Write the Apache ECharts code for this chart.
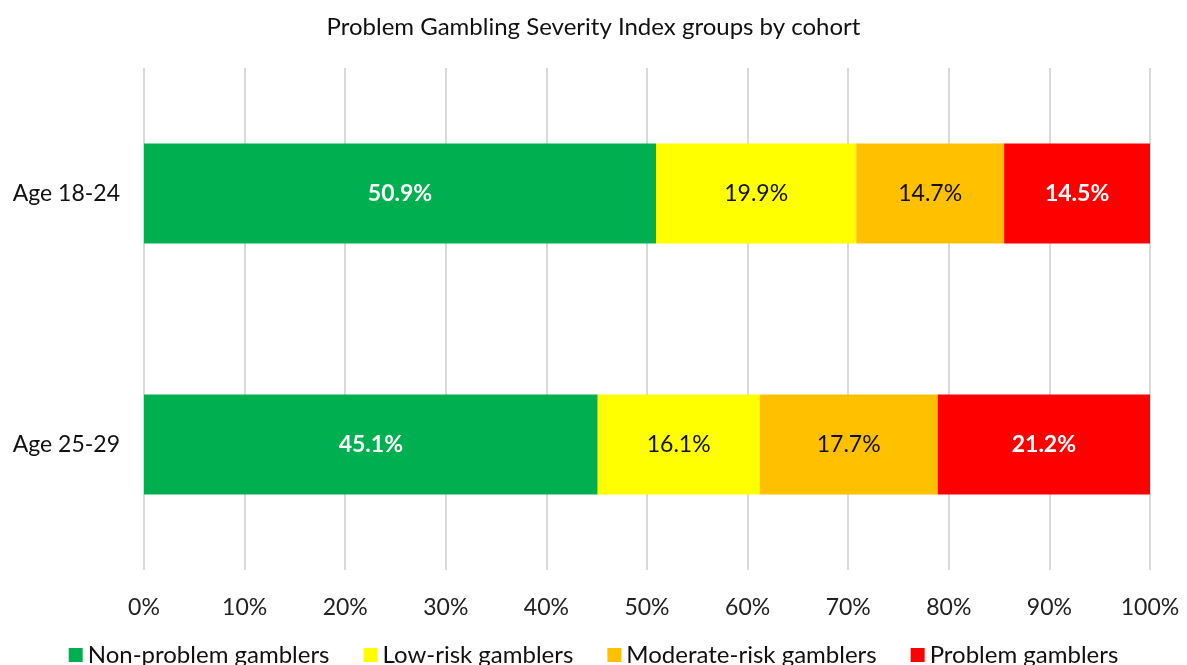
<!DOCTYPE html>
<html>
<head>
<meta charset="utf-8">
<script src="https://cdn.jsdelivr.net/npm/echarts@6/dist/echarts.min.js"></script>
<style>
  html, body { margin: 0; padding: 0; background: #fff; }
  #chart { width: 1187px; height: 665px; }
</style>
</head>
<body>
<div id="chart"></div>
<script>
// data
const cohorts = ['Age 18-24', 'Age 25-29']
const nonProblem = [50.9, 45.1]
const lowRisk = [19.9, 16.1]
const moderateRisk = [14.7, 17.7]
const problem = [14.5, 21.2]
const xTicks = [0, 10, 20, 30, 40, 50, 60, 70, 80, 90, 100]

const font = 'Lato, "Open Sans", sans-serif'

const makeSeries = (name, data, color, labelColor) => ({
  type: 'bar',
  name: name,
  stack: 'total',
  data: data,
  barWidth: 100,
  itemStyle: { color: color },
  label: {
    show: true,
    position: 'inside',
    formatter: '{c}%',
    color: labelColor,
    fontSize: 23,
    fontWeight: labelColor === '#fff' ? 'bold' : 'normal',
    fontFamily: font
  }
})

const chart = echarts.init(document.getElementById('chart'))
const option = {
  animation: false,
  title: {
    text: 'Problem Gambling Severity Index groups by cohort',
    left: 'center',
    top: 10,
    textStyle: {
      fontSize: 24,
      fontWeight: 'normal',
      color: '#111',
      fontFamily: font
    }
  },
  grid: {
    top: 68,
    left: 144,
    right: 37,
    bottom: 95
  },
  legend: {
    top: 638,
    left: 'center',
    itemWidth: 14,
    itemHeight: 14,
    itemGap: 34,
    icon: 'rect',
    textStyle: { fontSize: 24, color: '#111', fontFamily: font }
  },
  xAxis: {
    type: 'value',
    min: 0,
    max: 100,
    interval: 10,
    axisLine: { show: false },
    axisTick: { show: false },
    axisLabel: {
      margin: 26,
      fontSize: 23,
      color: '#222',
      fontFamily: font,
      formatter: v => (xTicks.includes(v) ? v + '%' : '')
    },
    splitLine: { show: true, lineStyle: { color: '#d9d9d9', width: 2 } }
  },
  yAxis: {
    type: 'category',
    data: cohorts,
    inverse: true,
    axisLine: { show: false },
    axisTick: { show: false },
    axisLabel: {
      margin: 24,
      fontSize: 23,
      color: '#111',
      fontFamily: font
    }
  },
  series: [
    makeSeries('Non-problem gamblers', nonProblem, '#00B050', '#fff'),
    makeSeries('Low-risk gamblers', lowRisk, '#FFFF00', '#111'),
    makeSeries('Moderate-risk gamblers', moderateRisk, '#FFC000', '#111'),
    makeSeries('Problem gamblers', problem, '#FF0000', '#fff')
  ]
}
chart.setOption(option)
</script>
</body>
</html>
